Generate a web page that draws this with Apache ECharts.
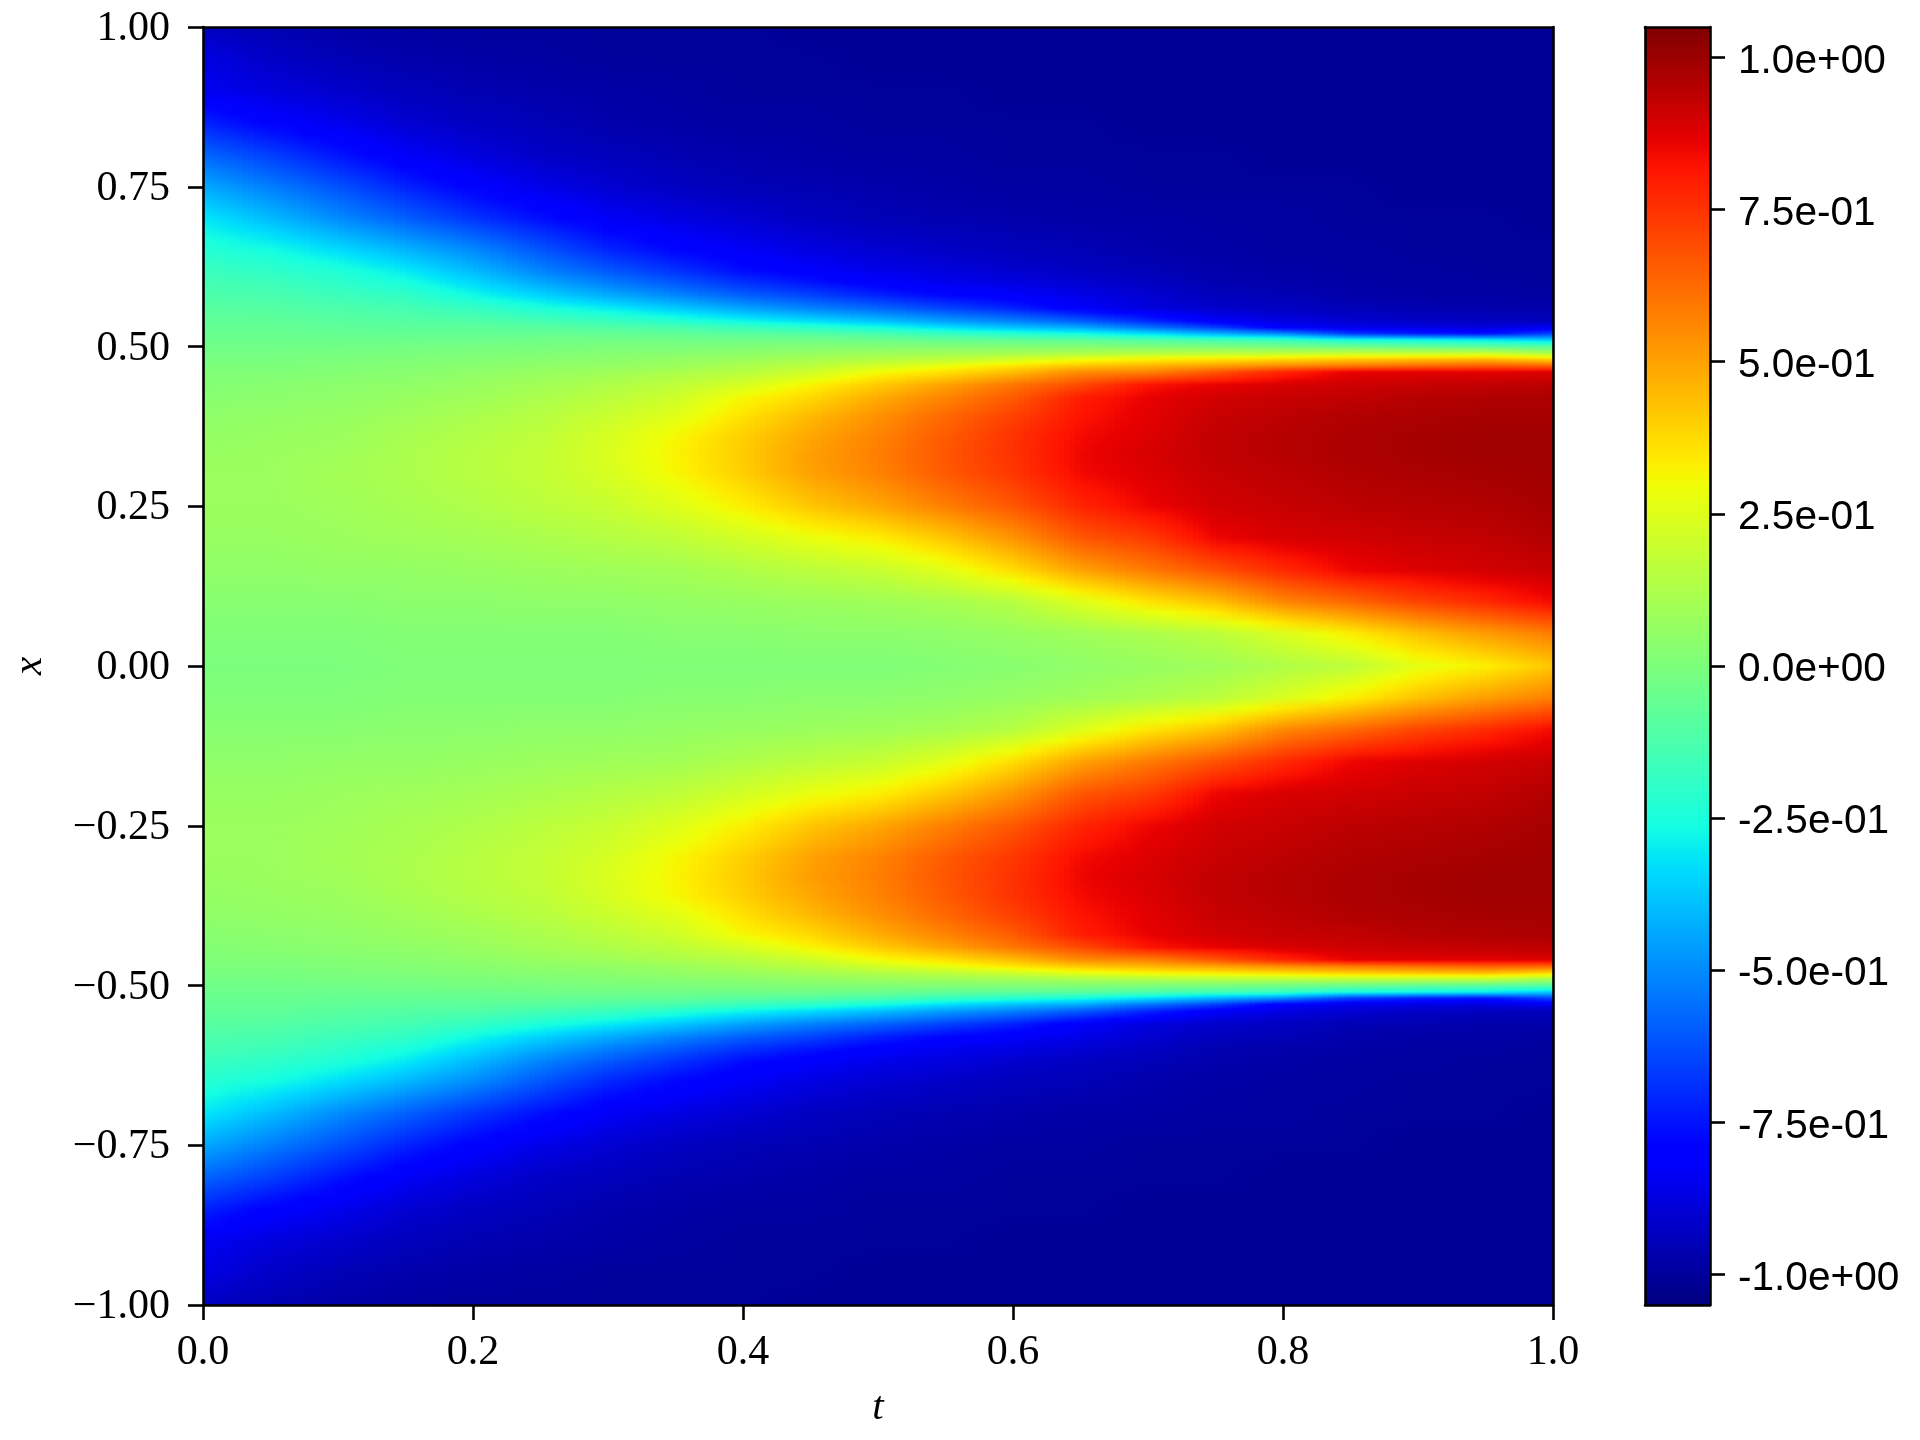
<!DOCTYPE html>
<html><head><meta charset="utf-8">
<style>html,body{margin:0;padding:0;background:#fff}#c{width:1920px;height:1440px}</style>
<script src="https://cdn.jsdelivr.net/npm/echarts@6/dist/echarts.min.js"></script>
</head><body><div id="c"></div>
<script>
// Values, in units of 0.01. One column per t, listed from x = 1 down to x = 0.
const xRows = [1,.95,.9,.85,.8,.75,.7,.65,.62,.6,.58,.56,.54,.53,.52,.51,.5,.49,.48,.47,.46,.44,.42,.39,.36,.33,.3,.25,.2,.15,.1,.05,0];
const tValues = [0,.05,.1,.15,.2,.25,.3,.35,.4,.45,.5,.55,.6,.65,.7,.75,.8,.85,.9,.95,1];
const u00 = [-93,-87,-84,-72,-58,-44,-31,-22,-17,-14,-12,-9,-7,-6,-5,-4,-3,-2,-1,0,1,2,3,5,6,7,8,8,7,5,3,1,0];
const u05 = [-96,-92,-88,-80,-66,-53,-40,-26,-20,-16,-13,-10,-7,-6,-5,-4,-3,-2,-1,0,1,3,4,6,7,8,8,8,7,5,3,1,0];
const u10 = [-98,-95,-91,-85,-75,-62,-50,-33,-24,-20,-16,-12,-9,-7,-6,-4,-3,-1,0,1,2,4,5,7,8,9,10,9,8,6,3,1,0];
const u15 = [-99,-97,-94,-90,-83,-72,-59,-41,-31,-25,-19,-14,-10,-8,-6,-4,-2,-1,1,2,3,5,7,9,11,12,12,11,9,6,4,2,1];
const u20 = [-100,-98,-96,-93,-88,-80,-68,-50,-41,-34,-27,-18,-11,-8,-6,-4,-1,0,2,3,5,7,9,12,14,15,15,13,10,7,4,2,1];
const u25 = [-100,-99,-97,-95,-92,-86,-76,-61,-52,-44,-35,-24,-14,-9,-6,-3,-1,1,3,5,7,10,12,15,17,18,18,16,12,8,5,2,1];
const u30 = [-100,-100,-98,-97,-94,-90,-83,-71,-61,-53,-43,-30,-17,-11,-6,-3,0,2,4,6,9,13,16,20,23,24,23,19,14,9,5,2,1];
const u35 = [-100,-100,-99,-98,-96,-93,-87,-78,-69,-61,-51,-37,-22,-13,-7,-3,0,3,6,8,12,17,21,26,31,32,31,25,17,10,6,3,1];
const u40 = [-100,-100,-100,-99,-97,-95,-90,-83,-77,-69,-59,-45,-28,-17,-9,-3,1,4,8,12,15,23,31,36,40,41,40,33,22,13,7,3,1];
const u45 = [-101,-100,-100,-99,-98,-96,-93,-87,-82,-75,-65,-52,-33,-21,-10,-3,2,6,11,16,21,32,38,45,49,51,50,42,28,16,8,4,1];
const u50 = [-101,-101,-100,-100,-99,-97,-95,-90,-86,-81,-72,-58,-39,-26,-13,-4,2,8,14,22,30,41,48,54,57,58,57,49,33,19,9,4,1];
const u55 = [-101,-101,-100,-100,-99,-98,-96,-92,-88,-85,-78,-65,-46,-33,-18,-6,2,9,17,28,36,50,57,63,66,67,66,58,42,26,11,5,2];
const u60 = [-101,-101,-101,-100,-100,-99,-97,-94,-91,-87,-82,-72,-52,-39,-22,-7,2,10,22,35,44,60,66,72,75,75,74,67,53,37,15,7,3];
const u65 = [-101,-101,-101,-100,-100,-99,-98,-95,-93,-90,-86,-82,-60,-44,-26,-8,2,12,28,42,55,70,80,82,84,85,84,78,67,50,25,9,5];
const u70 = [-101,-101,-101,-101,-100,-100,-98,-97,-95,-93,-90,-88,-71,-55,-33,-11,1,14,32,46,57,82,86,87,88,89,88,85,73,59,35,12,7];
const u75 = [-101,-101,-101,-101,-100,-100,-99,-98,-97,-96,-94,-91,-82,-66,-42,-14,0,15,35,50,67,86,90,92,93,93,92,90,85,68,43,16,9];
const u80 = [-101,-101,-101,-101,-101,-100,-99,-99,-98,-97,-95,-93,-87,-82,-50,-17,-2,16,38,55,78,89,92,94,95,95,94,92,89,77,56,24,13];
const u85 = [-101,-101,-101,-101,-101,-100,-100,-99,-99,-98,-97,-95,-90,-85,-66,-25,-4,17,41,59,86,91,93,96,97,97,96,94,90,85,63,33,17];
const u90 = [-101,-101,-101,-101,-101,-101,-100,-100,-99,-99,-98,-96,-92,-87,-72,-27,-6,17,43,62,87,92,95,97,98,98,97,95,92,88,71,43,27];
const u95 = [-101,-101,-101,-101,-101,-101,-100,-100,-100,-99,-98,-97,-93,-88,-75,-29,-8,18,45,65,87,93,96,98,99,99,98,96,93,90,77,51,33];
const u100 = [-101,-101,-101,-101,-101,-101,-101,-100,-100,-100,-99,-97,-94,-84,-65,-36,-10,11,39,64,88,94,97,98,99,99,99,98,96,92,84,58,42];
const columns = [u00,u05,u10,u15,u20,u25,u30,u35,u40,u45,u50,u55,u60,u65,u70,u75,u80,u85,u90,u95,u100];

const xTicks = {min:0, max:1, interval:.2};
const yTicks = {min:-1, max:1, interval:.25};
const cbRange = [-1.05, 1.05];
const cbTicks = [-1,-.75,-.5,-.25,0,.25,.5,.75,1];
const cbLabels = ['-1.0e+00','-7.5e-01','-5.0e-01','-2.5e-01','0.0e+00','2.5e-01','5.0e-01','7.5e-01','1.0e+00'];

const lerp = (pts, n) => { for (let i = 1; i < pts.length; i++) if (n <= pts[i][0]) {
  const a = pts[i-1], b = pts[i]; return a[1] + (b[1]-a[1])*(n-a[0])/(b[0]-a[0]); } return pts[pts.length-1][1]; };
const R = [[0,0],[.35,0],[.66,1],[.89,1],[1,.5]], G = [[0,0],[.125,0],[.375,1],[.64,1],[.91,0],[1,0]], B = [[0,.5],[.11,1],[.34,1],[.65,0],[1,0]];
const jetN = n => { n = Math.max(0, Math.min(1, n)); return `rgb(${Math.round(lerp(R,n)*255)},${Math.round(lerp(G,n)*255)},${Math.round(lerp(B,n)*255)})`; };
const jet = v => jetN((v - cbRange[0]) / (cbRange[1] - cbRange[0]));

// The picture is mirror-symmetric about x = 0, so the lower half repeats the rows read on the upper half.
const allX = xRows.concat(xRows.slice(0,-1).reverse().map(x => -x));
const fullCol = c => c.concat(c.slice(0,-1).reverse()).map(v => v/100);
const fullCols = columns.map(fullCol);

const STRIPS = 12, SUB = 3;
function stopsFor(vals) {
  const stops = [];
  for (let j = 0; j < allX.length; j++) {
    const off = (1 - allX[j]) / 2;
    if (j === 0) { stops.push({offset: off, color: jet(vals[0])}); continue; }
    const p = (1 - allX[j-1]) / 2;
    for (let k = 1; k <= SUB; k++) {
      const f = k / SUB;
      stops.push({offset: p + (off - p) * f, color: jet(vals[j-1] + (vals[j] - vals[j-1]) * f)});
    }
  }
  return stops;
}
function renderField(params, api) {
  const i = params.dataIndex, t0 = api.value(0), t1 = api.value(1);
  const a = fullCols[i], b = fullCols[i+1], children = [];
  for (let s = 0; s < STRIPS; s++) {
    const f = (s + .5) / STRIPS;
    const vals = a.map((v, j) => v + (b[j] - v) * f);
    const p0 = api.coord([t0 + (t1 - t0) * s / STRIPS, 1]);
    const p1 = api.coord([t0 + (t1 - t0) * (s + 1) / STRIPS, -1]);
    const x0 = Math.round(p0[0]), x1 = Math.round(p1[0]);
    children.push({type:'rect', silent:true,
      shape:{x:x0, y:p0[1], width:x1 - x0, height:p1[1] - p0[1]},
      style:{fill:new echarts.graphic.LinearGradient(0,0,0,1,stopsFor(vals))}});
  }
  return {type:'group', children};
}
function renderBar(params, api) {
  const p0 = api.coord([0, api.value(1)]), p1 = api.coord([1, api.value(0)]);
  const stops = [];
  for (let k = 0; k <= 128; k++) stops.push({offset:k/128, color:jetN(1 - k/128)});
  return {type:'rect', silent:true, shape:{x:p0[0], y:p0[1], width:p1[0]-p0[0], height:p1[1]-p0[1]},
    style:{fill:new echarts.graphic.LinearGradient(0,0,0,1,stops)}};
}

const serif = {fontFamily:'"Liberation Serif"', fontSize:42, color:'#000'};
const line = {show:true, onZero:false, lineStyle:{color:'#000', width:2.6}};
const tick = {show:true, length:15, lineStyle:{color:'#000', width:2.6}};
const frameX = (g, pos, lo, hi) => ({type:'value', gridIndex:g, position:pos, min:lo, max:hi, z:10, axisLine:line, axisTick:{show:false}, axisLabel:{show:false}, splitLine:{show:false}});
const frameY = (g, pos, lo, hi) => ({type:'value', gridIndex:g, position:pos, min:lo, max:hi, z:10, axisLine:line, axisTick:{show:false}, axisLabel:{show:false}, splitLine:{show:false}});

const chart = echarts.init(document.getElementById('c'), null, {renderer:'canvas', width:1920, height:1440});
chart.setOption({
  animation:false, backgroundColor:'#fff',
  grid:[
    {left:203, top:27, width:1350, height:1278, outerBoundsMode:'none'},
    {left:1645, top:27, width:65, height:1278, outerBoundsMode:'none'}
  ],
  xAxis:[
    {type:'value', gridIndex:0, position:'bottom', min:xTicks.min, max:xTicks.max, interval:xTicks.interval, z:10,
     name:'t', nameLocation:'middle', nameGap:83, nameTextStyle:{fontFamily:'"Liberation Serif"', fontStyle:'italic', fontSize:41, color:'#000'},
     axisLine:line, axisTick:tick, splitLine:{show:false},
     axisLabel:{...serif, margin:27, formatter:v => v.toFixed(1)}},
    frameX(0,'top',0,1),
    {...frameX(1,'bottom',0,1)},
    frameX(1,'top',0,1)
  ],
  yAxis:[
    {type:'value', gridIndex:0, position:'left', min:yTicks.min, max:yTicks.max, interval:yTicks.interval, z:10,
     name:'x', nameLocation:'middle', nameGap:152, nameTextStyle:{fontFamily:'"Liberation Serif"', fontStyle:'italic', fontSize:41, color:'#000'},
     axisLine:line, axisTick:tick, splitLine:{show:false},
     axisLabel:{...serif, margin:33, verticalAlign:'top', lineHeight:4, formatter:v => (v < 0 ? '\u2212' : '') + Math.abs(v).toFixed(2)}},
    frameY(0,'right',-1,1),
    {type:'value', gridIndex:1, position:'right', min:cbRange[0], max:cbRange[1], z:10,
     axisLine:line, axisTick:{...tick, customValues:cbTicks}, splitLine:{show:false},
     axisLabel:{customValues:cbTicks, fontFamily:'"Liberation Sans"', fontSize:40.6, color:'#000', margin:28, verticalAlign:'top', lineHeight:8,
       formatter:v => cbLabels[cbTicks.findIndex(c => Math.abs(c - v) < 1e-6)]}},
    frameY(1,'left',cbRange[0],cbRange[1])
  ],
  series:[
    {type:'custom', name:'u(t,x)', xAxisIndex:0, yAxisIndex:0, z:1, clip:true, renderItem:renderField,
     encode:{x:[0,1]}, data:tValues.slice(0,-1).map((t,i) => [t, tValues[i+1]])},
    {type:'custom', name:'colorbar', xAxisIndex:2, yAxisIndex:2, z:1, renderItem:renderBar,
     encode:{y:[0,1]}, data:[cbRange]}
  ]
});
</script></body></html>
